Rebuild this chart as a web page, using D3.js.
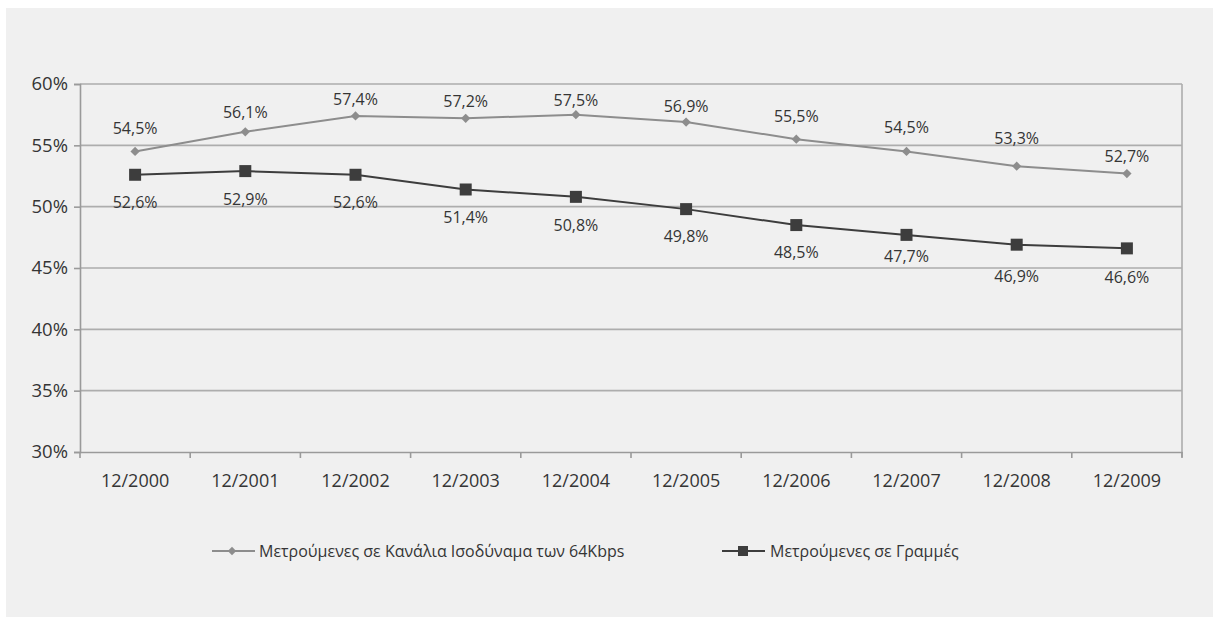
<!DOCTYPE html>
<html>
<head>
<meta charset="utf-8">
<script src="https://cdn.jsdelivr.net/npm/d3@7/dist/d3.min.js"></script>
<style>
  html, body { margin: 0; padding: 0; background: #ffffff; }
  svg { display: block; }
  text { font-family: "Open Sans", "Noto Sans", sans-serif; fill: #353535; }
</style>
</head>
<body>
<svg id="chart" width="1213" height="617"></svg>
<script>
// Periods on the x axis
const periods = ["12/2000", "12/2001", "12/2002", "12/2003", "12/2004",
                 "12/2005", "12/2006", "12/2007", "12/2008", "12/2009"];

// Share (%) counted in 64Kbps-equivalent channels
const channelsValues = [54.5, 56.1, 57.4, 57.2, 57.5, 56.9, 55.5, 54.5, 53.3, 52.7];

// Share (%) counted in lines
const linesValues = [52.6, 52.9, 52.6, 51.4, 50.8, 49.8, 48.5, 47.7, 46.9, 46.6];

// Y axis ticks (%)
const yTicks = [30, 35, 40, 45, 50, 55, 60];

// Series names shown in the legend
const seriesNames = ["Μετρούμενες σε Κανάλια Ισοδύναμα των 64Kbps", "Μετρούμενες σε Γραμμές"];

// Vertical nudges for the value labels (baseline relative to marker)
const channelsLabelDy = [-17, -14, -11, -11, -9, -10, -17, -18, -22, -12];
const linesLabelDy = [33, 34, 33, 34, 34, 33, 33, 27, 37, 35];

const svg = d3.select("#chart");

// Panel background
svg.append("rect")
  .attr("x", 6).attr("y", 8)
  .attr("width", 1213 - 6).attr("height", 617 - 8)
  .attr("fill", "#f0f0f0");

const plot = { left: 80, right: 1182, top: 84, bottom: 452 };

const x = d3.scaleBand().domain(periods).range([plot.left, plot.right]).padding(0);
const y = d3.scaleLinear().domain([30, 60]).range([plot.bottom, plot.top]);
const cx = d => x(d) + x.bandwidth() / 2;

const fmt = v => v.toFixed(1).replace(".", ",") + "%";

// Horizontal gridlines
svg.append("g")
  .selectAll("line")
  .data(yTicks.filter(t => t > 30))
  .join("line")
  .attr("x1", plot.left).attr("x2", plot.right)
  .attr("y1", d => y(d)).attr("y2", d => y(d))
  .attr("stroke", "#adadad").attr("stroke-width", 1.6);

// Right frame edge
svg.append("line")
  .attr("x1", plot.right).attr("x2", plot.right)
  .attr("y1", plot.top).attr("y2", plot.bottom + 5)
  .attr("stroke", "#adadad").attr("stroke-width", 1.6);

// Y axis
const yAxis = svg.append("g")
  .attr("transform", `translate(${plot.left},0)`)
  .call(d3.axisLeft(y).tickValues(yTicks).tickSize(6).tickPadding(6).tickFormat(d => d + "%"));
yAxis.select(".domain").attr("stroke", "#9a9a9a").attr("stroke-width", 1.6);
yAxis.selectAll(".tick line").attr("stroke", "#9a9a9a").attr("stroke-width", 1.6);
yAxis.selectAll(".tick text")
  .attr("font-size", 18.5).attr("fill", "#353535")
  .style("font-family", "'Open Sans', sans-serif");

// X axis: line plus ticks on the category boundaries
const xAxis = svg.append("g")
  .attr("transform", `translate(0,${plot.bottom})`)
  .call(d3.axisBottom(x).tickSize(0).tickPadding(22));
xAxis.select(".domain").attr("stroke", "#9a9a9a").attr("stroke-width", 1.6);
xAxis.selectAll(".tick text")
  .attr("font-size", 18).attr("fill", "#353535")
  .style("font-family", "'Open Sans', sans-serif");
xAxis.selectAll("line.bound")
  .data(d3.range(periods.length + 1))
  .join("line")
  .attr("class", "bound")
  .attr("x1", i => plot.left + i * x.bandwidth())
  .attr("x2", i => plot.left + i * x.bandwidth())
  .attr("y1", 0).attr("y2", 6)
  .attr("stroke", "#9a9a9a").attr("stroke-width", 1.6);

const line = d3.line().x((d, i) => cx(periods[i])).y(d => y(d));

// Channels series (light grey, diamonds)
const colA = "#8d8d8d";
svg.append("path")
  .datum(channelsValues)
  .attr("d", line)
  .attr("fill", "none").attr("stroke", colA).attr("stroke-width", 2);
svg.append("g")
  .selectAll("path")
  .data(channelsValues)
  .join("path")
  .attr("d", d3.symbol(d3.symbolDiamond2, 55))
  .attr("transform", (d, i) => `translate(${cx(periods[i])},${y(d)})`)
  .attr("fill", colA);
svg.append("g")
  .selectAll("text")
  .data(channelsValues)
  .join("text")
  .attr("x", (d, i) => cx(periods[i]))
  .attr("y", (d, i) => y(d) + channelsLabelDy[i])
  .attr("text-anchor", "middle")
  .attr("font-size", 16)
  .text(fmt);

// Lines series (dark, squares)
const colB = "#3d3d3d";
svg.append("path")
  .datum(linesValues)
  .attr("d", line)
  .attr("fill", "none").attr("stroke", colB).attr("stroke-width", 2);
svg.append("g")
  .selectAll("rect")
  .data(linesValues)
  .join("rect")
  .attr("x", (d, i) => cx(periods[i]) - 6)
  .attr("y", d => y(d) - 6)
  .attr("width", 12).attr("height", 12)
  .attr("fill", colB);
svg.append("g")
  .selectAll("text")
  .data(linesValues)
  .join("text")
  .attr("x", (d, i) => cx(periods[i]))
  .attr("y", (d, i) => y(d) + linesLabelDy[i])
  .attr("text-anchor", "middle")
  .attr("font-size", 16)
  .text(fmt);

// Legend
const legendY = 551;
const lg1 = svg.append("g").attr("transform", `translate(212,${legendY})`);
lg1.append("line").attr("x1", 0).attr("x2", 43).attr("y1", 0).attr("y2", 0)
  .attr("stroke", colA).attr("stroke-width", 2);
lg1.append("path").attr("d", d3.symbol(d3.symbolDiamond2, 45))
  .attr("transform", "translate(20,0)").attr("fill", colA);
lg1.append("text").attr("x", 47).attr("y", 0).attr("dy", "0.35em")
  .attr("font-size", 16).text(seriesNames[0]);

const lg2 = svg.append("g").attr("transform", `translate(722,${legendY})`);
lg2.append("line").attr("x1", 0).attr("x2", 43).attr("y1", 0).attr("y2", 0)
  .attr("stroke", colB).attr("stroke-width", 2);
lg2.append("rect").attr("x", 16).attr("y", -5).attr("width", 10).attr("height", 10)
  .attr("fill", colB);
lg2.append("text").attr("x", 48).attr("y", 0).attr("dy", "0.35em")
  .attr("font-size", 16).text(seriesNames[1]);
</script>
</body>
</html>
